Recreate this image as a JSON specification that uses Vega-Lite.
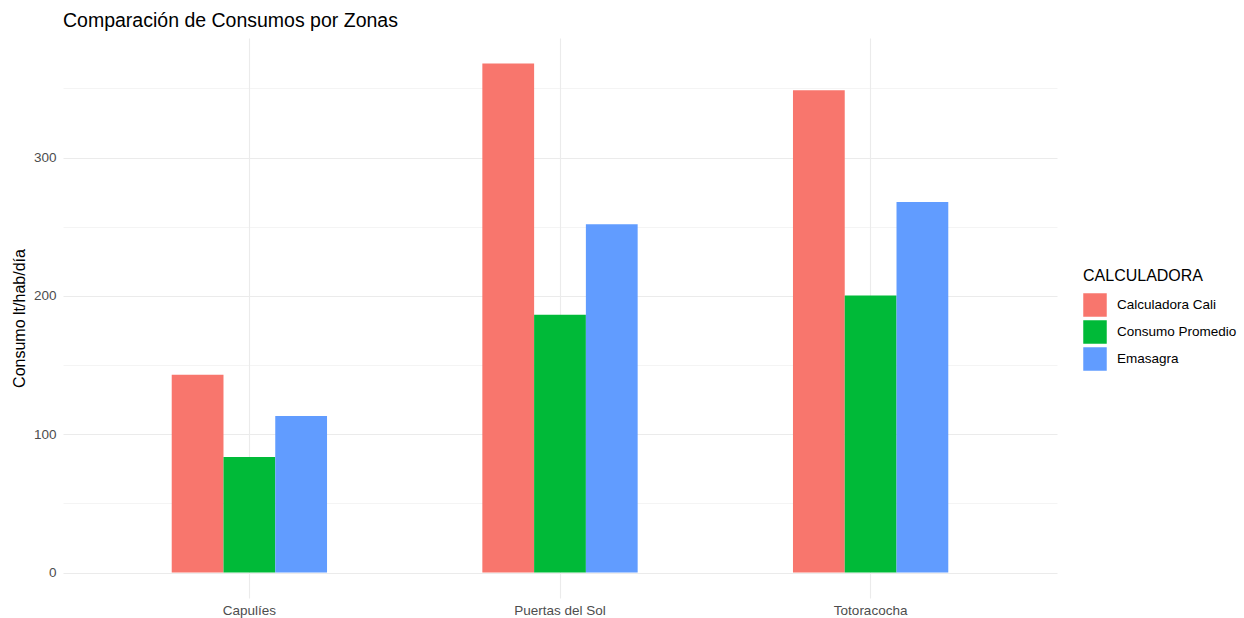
{
  "$schema": "https://vega.github.io/schema/vega-lite/v6.json",
  "width": 994,
  "height": 560,
  "autosize": {"type": "none"},
  "padding": {"left": 63, "top": 38, "right": 187, "bottom": 20},
  "background": "white",
  "title": {
    "text": "Comparación de Consumos por Zonas",
    "anchor": "start",
    "frame": "group",
    "font": "Liberation Sans",
    "fontSize": 19.5,
    "fontWeight": "normal",
    "color": "black",
    "offset": 7
  },
  "data": {
    "values": [
      {"zona": "Capulíes", "calc": "Calculadora Cali", "consumo": 142.9},
      {"zona": "Capulíes", "calc": "Consumo Promedio", "consumo": 83.6},
      {"zona": "Capulíes", "calc": "Emasagra", "consumo": 113.2},
      {"zona": "Puertas del Sol", "calc": "Calculadora Cali", "consumo": 368.0},
      {"zona": "Puertas del Sol", "calc": "Consumo Promedio", "consumo": 186.3},
      {"zona": "Puertas del Sol", "calc": "Emasagra", "consumo": 251.8},
      {"zona": "Totoracocha", "calc": "Calculadora Cali", "consumo": 348.7},
      {"zona": "Totoracocha", "calc": "Consumo Promedio", "consumo": 200.3},
      {"zona": "Totoracocha", "calc": "Emasagra", "consumo": 267.8}
    ]
  },
  "mark": {"type": "bar"},
  "encoding": {
    "x": {
      "field": "zona",
      "type": "nominal",
      "title": null,
      "scale": {"paddingInner": 0.5, "paddingOuter": 0.35},
      "axis": {
        "labelAngle": 0,
        "labelFont": "Liberation Sans",
        "labelFontSize": 13.5,
        "labelColor": "#4d4d4d",
        "labelPadding": 5,
        "ticks": false,
        "domain": false,
        "grid": true,
        "bandPosition": 0.5,
        "gridColor": "#ebebeb",
        "gridWidth": 1.1
      }
    },
    "xOffset": {"field": "calc", "type": "nominal", "scale": {"paddingInner": 0, "paddingOuter": 0}},
    "y": {
      "field": "consumo",
      "type": "quantitative",
      "title": "Consumo lt/hab/día",
      "scale": {"domain": [-18.4, 386.4], "nice": false, "zero": false},
      "axis": {
        "values": [0, 50, 100, 150, 200, 250, 300, 350],
        "labelExpr": "datum.value % 100 === 0 ? datum.label : ''",
        "labelFont": "Liberation Sans",
        "labelFontSize": 13.5,
        "labelColor": "#4d4d4d",
        "labelPadding": 7,
        "ticks": false,
        "domain": false,
        "grid": true,
        "gridColor": "#ebebeb",
        "gridWidth": {"condition": {"test": "datum.value % 100 === 0", "value": 1.1}, "value": 0.55},
        "titleFont": "Liberation Sans",
        "titleFontSize": 16,
        "titleFontWeight": "normal",
        "titleColor": "black",
        "titlePadding": 6
      }
    },
    "color": {
      "field": "calc",
      "type": "nominal",
      "scale": {"domain": ["Calculadora Cali", "Consumo Promedio", "Emasagra"], "range": ["#F8766D", "#00BA38", "#619CFF"]},
      "legend": {
        "title": "CALCULADORA",
        "orient": "none",
        "legendX": 1020,
        "legendY": 230,
        "padding": 0,
        "titleFont": "Liberation Sans",
        "titleFontSize": 16,
        "titleFontWeight": "normal",
        "titleColor": "black",
        "titlePadding": 9,
        "labelFont": "Liberation Sans",
        "labelFontSize": 13.5,
        "labelColor": "black",
        "labelOffset": 10,
        "symbolType": "square",
        "symbolSize": 552,
        "symbolStrokeWidth": 0,
        "symbolOpacity": 1,
        "rowPadding": 3
      }
    }
  },
  "config": {
    "view": {"stroke": null},
    "axis": {"gridOpacity": 1}
  }
}
